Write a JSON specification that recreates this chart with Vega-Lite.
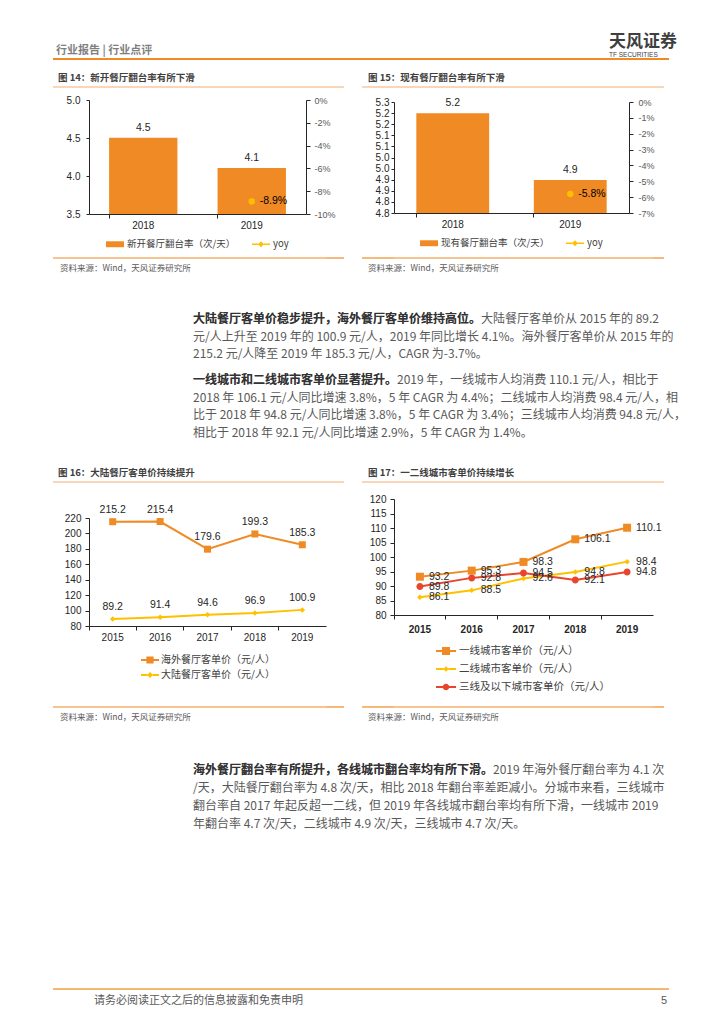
{
  "$schema": "https://vega.github.io/schema/vega-lite/v6.json",
  "background": "white",
  "padding": {"left": 52, "top": 32, "right": 10, "bottom": 5},
  "data": {"values": []},
  "columns": 7,
  "bounds": "flush",
  "spacing": 0,
  "resolve": {"scale": {"color": "independent", "shape": "independent"}, "legend": {"color": "independent", "shape": "independent"}},
  "config": {
    "view": {"stroke": null},
    "font": "Liberation Sans",
    "title": {"font": "Noto Sans CJK SC"},
    "axis": {"labelFont": "Liberation Sans", "labelFontSize": 10, "labelColor": "#262626", "domainColor": "#262626", "tickColor": "#262626", "grid": false, "domainWidth": 1, "tickWidth": 1},
    "legend": {"layout": {"bottom": {"anchor": "middle"}}},
    "locale": {"number": {"decimal": ".", "thousands": ",", "grouping": [3], "currency": ["$", ""], "minus": "-"}}
  },
  "concat": [
    {"width": 36, "height": 28, "data": {"values": [{}]}, "mark": {"type": "rule", "color": "#F08A24", "strokeWidth": 2}, "encoding": {"y": {"datum": 1, "type": "quantitative", "scale": {"domain": [0, 1]}, "axis": null}},
     "title": {"text": "行业报告 | 行业点评", "anchor": "start", "frame": "group", "dx": 3, "offset": -9, "baseline": "bottom", "fontSize": 11, "fontWeight": "bold", "color": "#7F7F7F", "font": "Noto Sans CJK SC"}},
    {"width": 237, "height": 28, "data": {"values": [{}]}, "mark": {"type": "rule", "color": "#F08A24", "strokeWidth": 2}, "encoding": {"y": {"datum": 1, "type": "quantitative", "scale": {"domain": [0, 1]}, "axis": null}}},
    {"width": 18, "height": 28, "data": {"values": [{}]}, "mark": {"type": "rule", "color": "#F08A24", "strokeWidth": 2}, "encoding": {"y": {"datum": 1, "type": "quantitative", "scale": {"domain": [0, 1]}, "axis": null}}},
    {"width": 18, "height": 28, "data": {"values": [{}]}, "mark": {"type": "rule", "color": "#F08A24", "strokeWidth": 2}, "encoding": {"y": {"datum": 1, "type": "quantitative", "scale": {"domain": [0, 1]}, "axis": null}}},
    {"width": 32, "height": 28, "data": {"values": [{}]}, "mark": {"type": "rule", "color": "#F08A24", "strokeWidth": 2}, "encoding": {"y": {"datum": 1, "type": "quantitative", "scale": {"domain": [0, 1]}, "axis": null}}},
    {"width": 259, "height": 28, "data": {"values": [{}]}, "mark": {"type": "rule", "color": "#F08A24", "strokeWidth": 2}, "encoding": {"y": {"datum": 1, "type": "quantitative", "scale": {"domain": [0, 1]}, "axis": null}},
     "title": {"text": "天风证券", "subtitle": "TF SECURITIES", "anchor": "start", "frame": "group", "dx": 215, "offset": -1, "fontSize": 17, "fontWeight": "bold", "color": "#3F3F3F", "font": "Noto Sans CJK SC", "subtitleFontSize": 6.5, "subtitleColor": "#3F3F3F", "subtitlePadding": 1, "subtitleFont": "Liberation Sans"}},
    {"width": 16, "height": 28, "data": {"values": [{}]}, "mark": {"type": "rule", "color": "#F08A24", "strokeWidth": 2}, "encoding": {"y": {"datum": 1, "type": "quantitative", "scale": {"domain": [0, 1]}, "axis": null}}},

    {"width": 36, "height": 13, "data": {"values": [{}]}, "mark": {"type": "rule", "color": "#F8C9A0", "strokeWidth": 1.5}, "encoding": {"y": {"datum": 1, "type": "quantitative", "scale": {"domain": [0, 1]}, "axis": null}},
     "title": {"text": "图 14：新开餐厅翻台率有所下滑", "anchor": "start", "frame": "group", "dx": 5, "offset": -6, "baseline": "bottom", "fontSize": 9.5, "fontWeight": "bold", "color": "#404040", "font": "Noto Sans CJK SC"}},
    {"width": 237, "height": 13, "data": {"values": [{}]}, "mark": {"type": "rule", "color": "#F8C9A0", "strokeWidth": 1.5}, "encoding": {"y": {"datum": 1, "type": "quantitative", "scale": {"domain": [0, 1]}, "axis": null}}},
    {"width": 18, "height": 13, "data": {"values": [{}]}, "mark": {"type": "rule", "color": "#F8C9A0", "strokeWidth": 1.5}, "encoding": {"y": {"datum": 1, "type": "quantitative", "scale": {"domain": [0, 1]}, "axis": null}}},
    {"width": 18, "height": 13, "mark": "point"},
    {"width": 32, "height": 13, "data": {"values": [{}]}, "mark": {"type": "rule", "color": "#F8C9A0", "strokeWidth": 1.5}, "encoding": {"y": {"datum": 1, "type": "quantitative", "scale": {"domain": [0, 1]}, "axis": null}},
     "title": {"text": "图 15：现有餐厅翻台率有所下滑", "anchor": "start", "frame": "group", "dx": 6, "offset": -6, "baseline": "bottom", "fontSize": 9.5, "fontWeight": "bold", "color": "#404040", "font": "Noto Sans CJK SC"}},
    {"width": 259, "height": 13, "data": {"values": [{}]}, "mark": {"type": "rule", "color": "#F8C9A0", "strokeWidth": 1.5}, "encoding": {"y": {"datum": 1, "type": "quantitative", "scale": {"domain": [0, 1]}, "axis": null}}},
    {"width": 11, "height": 13, "data": {"values": [{}]}, "mark": {"type": "rule", "color": "#F8C9A0", "strokeWidth": 1.5}, "encoding": {"y": {"datum": 1, "type": "quantitative", "scale": {"domain": [0, 1]}, "axis": null}}},

    {"width": 36, "height": 114, "mark": "point"},
    {
      "width": 217, "height": 114,
      "data": {"values": [
        {"year": "2018", "rate": 4.504, "yoy": null},
        {"year": "2019", "rate": 4.105, "yoy": -0.089}
      ]},
      "encoding": {
        "x": {"field": "year", "type": "nominal", "scale": {"paddingInner": 0.37, "paddingOuter": 0.185},
              "axis": {"title": null, "labelAngle": 0, "bandPosition": 0, "tickSize": 4, "labelPadding": 2, "labelFontSize": 10}}
      },
      "layer": [
        {
          "mark": {"type": "bar", "color": "#F08A24"},
          "encoding": {
            "y": {"field": "rate", "type": "quantitative", "scale": {"domain": [3.5, 5.0], "zero": false, "nice": false},
                  "axis": {"title": null, "orient": "left", "values": [3.5, 4, 4.5, 5], "format": ".1f", "tickSize": 3, "labelPadding": 6}},
            "y2": {"datum": 3.5},
            "color": {"datum": "新开餐厅翻台率（次/天）", "type": "nominal",
                      "scale": {"domain": ["新开餐厅翻台率（次/天）", "yoy"], "range": ["#F08A24", "#FFC000"]},
                      "legend": {"title": null, "orient": "bottom", "direction": "horizontal", "offset": 5, "symbolSize": 324, "symbolStrokeWidth": 0, "labelFont": "Noto Sans CJK SC", "labelFontSize": 9.5, "labelColor": "#404040", "labelOffset": 3, "columnPadding": 16,
                                 "symbolType": {"expr": "datum.value === 'yoy' ? 'M-1,-0.07H-0.3V0.07H-1Z M0.3,-0.07H1V0.07H0.3Z M0,-0.33L0.33,0L0,0.33L-0.33,0Z' : 'M-1,-0.33H1V0.33H-1Z'"}}}
          }
        },
        {
          "mark": {"type": "text", "baseline": "bottom", "dy": -5, "fontSize": 10.5, "color": "#262626"},
          "encoding": {
            "y": {"field": "rate", "type": "quantitative", "scale": {"domain": [3.5, 5.0], "zero": false, "nice": false}, "axis": null},
            "text": {"field": "rate", "type": "quantitative", "format": ".1f"}
          }
        },
        {
          "transform": [{"filter": "isValid(datum.yoy)"}],
          "mark": {"type": "point", "filled": true, "shape": "circle", "size": 40, "opacity": 1},
          "encoding": {
            "y": {"field": "yoy", "type": "quantitative", "scale": {"domain": [-0.1, 0], "nice": false, "zero": false},
                  "axis": {"title": null, "orient": "right", "values": [-0.1, -0.08, -0.06, -0.04, -0.02, 0], "format": ".0%", "labelColor": "#595959", "labelFontSize": 9, "tickSize": 4, "labelPadding": 4}},
            "color": {"datum": "yoy", "type": "nominal",
                      "scale": {"domain": ["新开餐厅翻台率（次/天）", "yoy"], "range": ["#F08A24", "#FFC000"]},
                      "legend": {"title": null, "orient": "bottom", "direction": "horizontal", "offset": 5, "symbolSize": 324, "symbolStrokeWidth": 0, "labelFont": "Noto Sans CJK SC", "labelFontSize": 9.5, "labelColor": "#404040", "labelOffset": 3, "columnPadding": 16,
                                 "symbolType": {"expr": "datum.value === 'yoy' ? 'M-1,-0.07H-0.3V0.07H-1Z M0.3,-0.07H1V0.07H0.3Z M0,-0.33L0.33,0L0,0.33L-0.33,0Z' : 'M-1,-0.33H1V0.33H-1Z'"}}}
          }
        },
        {
          "transform": [{"filter": "isValid(datum.yoy)"}],
          "mark": {"type": "text", "align": "left", "baseline": "middle", "dx": 8, "fontSize": 10.5, "color": "#000000"},
          "encoding": {
            "y": {"field": "yoy", "type": "quantitative", "scale": {"domain": [-0.1, 0], "nice": false, "zero": false}, "axis": null},
            "text": {"field": "yoy", "type": "quantitative", "format": ".1%"}
          }
        }
      ],
      "resolve": {"scale": {"y": "independent"}}
    },
    {"width": 18, "height": 114, "mark": "point"},
    {"width": 18, "height": 114, "mark": "point"},
    {"width": 32, "height": 114, "mark": "point"},
    {
      "width": 235, "height": 113,
      "data": {"values": [
        {"year": "2018", "rate": 5.249, "yoy": null},
        {"year": "2019", "rate": 4.949, "yoy": -0.058}
      ]},
      "encoding": {
        "x": {"field": "year", "type": "nominal", "scale": {"paddingInner": 0.38, "paddingOuter": 0.19},
              "axis": {"title": null, "labelAngle": 0, "bandPosition": 0, "tickSize": 4, "labelPadding": 2, "labelFontSize": 10}}
      },
      "layer": [
        {
          "mark": {"type": "bar", "color": "#F08A24"},
          "encoding": {
            "y": {"field": "rate", "type": "quantitative", "scale": {"domain": [4.8, 5.3], "zero": false, "nice": false, "range": [113, 2]},
                  "axis": {"title": null, "orient": "left", "values": [4.8, 4.85, 4.9, 4.95, 5.0, 5.05, 5.1, 5.15, 5.2, 5.25, 5.3], "labelExpr": "format(floor(datum.value * 10 + 0.001) / 10, '.1f')", "tickSize": 3, "labelPadding": 2}},
            "y2": {"datum": 4.8},
            "color": {"datum": "现有餐厅翻台率（次/天）", "type": "nominal",
                      "scale": {"domain": ["现有餐厅翻台率（次/天）", "yoy"], "range": ["#F08A24", "#FFC000"]},
                      "legend": {"title": null, "orient": "bottom", "direction": "horizontal", "offset": 5, "symbolSize": 324, "symbolStrokeWidth": 0, "labelFont": "Noto Sans CJK SC", "labelFontSize": 9.5, "labelColor": "#404040", "labelOffset": 3, "columnPadding": 16,
                                 "symbolType": {"expr": "datum.value === 'yoy' ? 'M-1,-0.07H-0.3V0.07H-1Z M0.3,-0.07H1V0.07H0.3Z M0,-0.33L0.33,0L0,0.33L-0.33,0Z' : 'M-1,-0.33H1V0.33H-1Z'"}}}
          }
        },
        {
          "mark": {"type": "text", "baseline": "bottom", "dy": -5, "fontSize": 10.5, "color": "#262626"},
          "encoding": {
            "y": {"field": "rate", "type": "quantitative", "scale": {"domain": [4.8, 5.3], "zero": false, "nice": false, "range": [113, 2]}, "axis": null},
            "text": {"field": "rate", "type": "quantitative", "format": ".1f"}
          }
        },
        {
          "transform": [{"filter": "isValid(datum.yoy)"}],
          "mark": {"type": "point", "filled": true, "shape": "circle", "size": 40, "opacity": 1},
          "encoding": {
            "y": {"field": "yoy", "type": "quantitative", "scale": {"domain": [-0.07, 0], "nice": false, "zero": false, "range": [113, 2]},
                  "axis": {"title": null, "orient": "right", "values": [-0.07, -0.06, -0.05, -0.04, -0.03, -0.02, -0.01, 0], "format": ".0%", "labelColor": "#595959", "labelFontSize": 9, "tickSize": 4, "labelPadding": 5}},
            "color": {"datum": "yoy", "type": "nominal",
                      "scale": {"domain": ["现有餐厅翻台率（次/天）", "yoy"], "range": ["#F08A24", "#FFC000"]},
                      "legend": {"title": null, "orient": "bottom", "direction": "horizontal", "offset": 5, "symbolSize": 324, "symbolStrokeWidth": 0, "labelFont": "Noto Sans CJK SC", "labelFontSize": 9.5, "labelColor": "#404040", "labelOffset": 3, "columnPadding": 16,
                                 "symbolType": {"expr": "datum.value === 'yoy' ? 'M-1,-0.07H-0.3V0.07H-1Z M0.3,-0.07H1V0.07H0.3Z M0,-0.33L0.33,0L0,0.33L-0.33,0Z' : 'M-1,-0.33H1V0.33H-1Z'"}}}
          }
        },
        {
          "transform": [{"filter": "isValid(datum.yoy)"}],
          "mark": {"type": "text", "align": "left", "baseline": "middle", "dx": 8, "fontSize": 10.5, "color": "#000000"},
          "encoding": {
            "y": {"field": "yoy", "type": "quantitative", "scale": {"domain": [-0.07, 0], "nice": false, "zero": false, "range": [113, 2]}, "axis": null},
            "text": {"field": "yoy", "type": "quantitative", "format": ".1%"}
          }
        }
      ],
      "resolve": {"scale": {"y": "independent"}}
    },
    {"width": 16, "height": 114, "mark": "point"},

    {"width": 36, "height": 44, "data": {"values": [{}]}, "mark": {"type": "rule", "color": "#F08A24", "strokeWidth": 1.2}, "encoding": {"y": {"datum": 0, "type": "quantitative", "scale": {"domain": [0, 1]}, "axis": null}},
     "title": {"text": "资料来源：Wind，天风证券研究所", "orient": "bottom", "anchor": "start", "frame": "group", "dx": 7, "offset": 5, "baseline": "top", "fontSize": 8.5, "fontWeight": "normal", "color": "#595959", "font": "Noto Sans CJK SC"}},
    {"width": 237, "height": 44, "data": {"values": [{}]}, "mark": {"type": "rule", "color": "#F08A24", "strokeWidth": 1.2}, "encoding": {"y": {"datum": 0, "type": "quantitative", "scale": {"domain": [0, 1]}, "axis": null}}},
    {"width": 18, "height": 44, "data": {"values": [{}]}, "mark": {"type": "rule", "color": "#F08A24", "strokeWidth": 1.2}, "encoding": {"y": {"datum": 0, "type": "quantitative", "scale": {"domain": [0, 1]}, "axis": null}}},
    {"width": 18, "height": 44, "mark": "point"},
    {"width": 32, "height": 44, "data": {"values": [{}]}, "mark": {"type": "rule", "color": "#F08A24", "strokeWidth": 1.2}, "encoding": {"y": {"datum": 0, "type": "quantitative", "scale": {"domain": [0, 1]}, "axis": null}},
     "title": {"text": "资料来源：Wind，天风证券研究所", "orient": "bottom", "anchor": "start", "frame": "group", "dx": 6, "offset": 5, "baseline": "top", "fontSize": 8.5, "fontWeight": "normal", "color": "#595959", "font": "Noto Sans CJK SC"}},
    {"width": 259, "height": 44, "data": {"values": [{}]}, "mark": {"type": "rule", "color": "#F08A24", "strokeWidth": 1.2}, "encoding": {"y": {"datum": 0, "type": "quantitative", "scale": {"domain": [0, 1]}, "axis": null}}},
    {"width": 11, "height": 44, "data": {"values": [{}]}, "mark": {"type": "rule", "color": "#F08A24", "strokeWidth": 1.2}, "encoding": {"y": {"datum": 0, "type": "quantitative", "scale": {"domain": [0, 1]}, "axis": null}}},

    {"width": 36, "height": 50, "mark": "point",
     "title": {"text": ["大陆餐厅客单价稳步提升，海外餐厅客单价维持高位。大陆餐厅客单价从 2015 年的 89.2", "元/人上升至 2019 年的 100.9 元/人，2019 年同比增长 4.1%。海外餐厅客单价从 2015 年的", "215.2 元/人降至 2019 年 185.3 元/人，CAGR 为-3.7%。"],
               "orient": "bottom", "anchor": "start", "frame": "group", "dx": 140, "offset": 6, "baseline": "top", "fontSize": 12, "fontWeight": "normal", "color": "#595959", "font": "Noto Sans CJK SC", "lineHeight": 17.5}},
    {"width": 237, "height": 50, "mark": "point",
     "title": {"text": "大陆餐厅客单价稳步提升，海外餐厅客单价维持高位。", "orient": "bottom", "anchor": "start", "frame": "group", "dx": 104, "offset": 6, "baseline": "top", "fontSize": 12, "fontWeight": "bold", "color": "#333333", "font": "Noto Sans CJK SC", "lineHeight": 17.5}},
    {"width": 18, "height": 50, "mark": "point"},
    {"width": 18, "height": 50, "mark": "point"},
    {"width": 32, "height": 50, "mark": "point"},
    {"width": 259, "height": 50, "mark": "point"},
    {"width": 16, "height": 50, "mark": "point"},

    {"width": 36, "height": 61, "mark": "point",
     "title": {"text": ["一线城市和二线城市客单价显著提升。2019 年，一线城市人均消费 110.1 元/人，相比于", "2018 年 106.1 元/人同比增速 3.8%，5 年 CAGR 为 4.4%；二线城市人均消费 98.4 元/人，相", "比于 2018 年 94.8 元/人同比增速 3.8%，5 年 CAGR 为 3.4%；三线城市人均消费 94.8 元/人，", "相比于 2018 年 92.1 元/人同比增速 2.9%，5 年 CAGR 为 1.4%。"],
               "orient": "bottom", "anchor": "start", "frame": "group", "dx": 140, "offset": 6, "baseline": "top", "fontSize": 12, "fontWeight": "normal", "color": "#595959", "font": "Noto Sans CJK SC", "lineHeight": 17.6}},
    {"width": 237, "height": 61, "mark": "point",
     "title": {"text": "一线城市和二线城市客单价显著提升。", "orient": "bottom", "anchor": "start", "frame": "group", "dx": 104, "offset": 6, "baseline": "top", "fontSize": 12, "fontWeight": "bold", "color": "#333333", "font": "Noto Sans CJK SC", "lineHeight": 17.6}},
    {"width": 18, "height": 61, "mark": "point"},
    {"width": 18, "height": 61, "mark": "point"},
    {"width": 32, "height": 61, "mark": "point"},
    {"width": 259, "height": 61, "mark": "point"},
    {"width": 16, "height": 61, "mark": "point"},

    {"width": 36, "height": 113, "mark": "point"},
    {"width": 237, "height": 113, "mark": "point"},
    {"width": 18, "height": 113, "mark": "point"},
    {"width": 18, "height": 113, "mark": "point"},
    {"width": 32, "height": 113, "mark": "point"},
    {"width": 259, "height": 113, "mark": "point"},
    {"width": 16, "height": 113, "mark": "point"},

    {"width": 36, "height": 17, "data": {"values": [{}]}, "mark": {"type": "rule", "color": "#F8C9A0", "strokeWidth": 1.5}, "encoding": {"y": {"datum": 1, "type": "quantitative", "scale": {"domain": [0, 1]}, "axis": null}},
     "title": {"text": "图 16：大陆餐厅客单价持续提升", "anchor": "start", "frame": "group", "dx": 5, "offset": -6, "baseline": "bottom", "fontSize": 9.5, "fontWeight": "bold", "color": "#404040", "font": "Noto Sans CJK SC"}},
    {"width": 237, "height": 17, "data": {"values": [{}]}, "mark": {"type": "rule", "color": "#F8C9A0", "strokeWidth": 1.5}, "encoding": {"y": {"datum": 1, "type": "quantitative", "scale": {"domain": [0, 1]}, "axis": null}}},
    {"width": 18, "height": 17, "data": {"values": [{}]}, "mark": {"type": "rule", "color": "#F8C9A0", "strokeWidth": 1.5}, "encoding": {"y": {"datum": 1, "type": "quantitative", "scale": {"domain": [0, 1]}, "axis": null}}},
    {"width": 18, "height": 17, "mark": "point"},
    {"width": 32, "height": 17, "data": {"values": [{}]}, "mark": {"type": "rule", "color": "#F8C9A0", "strokeWidth": 1.5}, "encoding": {"y": {"datum": 1, "type": "quantitative", "scale": {"domain": [0, 1]}, "axis": null}},
     "title": {"text": "图 17：一二线城市客单价持续增长", "anchor": "start", "frame": "group", "dx": 6, "offset": -6, "baseline": "bottom", "fontSize": 9.5, "fontWeight": "bold", "color": "#404040", "font": "Noto Sans CJK SC"}},
    {"width": 259, "height": 17, "data": {"values": [{}]}, "mark": {"type": "rule", "color": "#F8C9A0", "strokeWidth": 1.5}, "encoding": {"y": {"datum": 1, "type": "quantitative", "scale": {"domain": [0, 1]}, "axis": null}}},
    {"width": 11, "height": 17, "data": {"values": [{}]}, "mark": {"type": "rule", "color": "#F8C9A0", "strokeWidth": 1.5}, "encoding": {"y": {"datum": 1, "type": "quantitative", "scale": {"domain": [0, 1]}, "axis": null}}},

    {"width": 36, "height": 127, "mark": "point"},
    {
      "width": 237, "height": 127,
      "data": {"values": [
        {"year": "2015", "s": "海外餐厅客单价（元/人）", "v": 215.2},
        {"year": "2016", "s": "海外餐厅客单价（元/人）", "v": 215.4},
        {"year": "2017", "s": "海外餐厅客单价（元/人）", "v": 179.6},
        {"year": "2018", "s": "海外餐厅客单价（元/人）", "v": 199.3},
        {"year": "2019", "s": "海外餐厅客单价（元/人）", "v": 185.3},
        {"year": "2015", "s": "大陆餐厅客单价（元/人）", "v": 89.2},
        {"year": "2016", "s": "大陆餐厅客单价（元/人）", "v": 91.4},
        {"year": "2017", "s": "大陆餐厅客单价（元/人）", "v": 94.6},
        {"year": "2018", "s": "大陆餐厅客单价（元/人）", "v": 96.9},
        {"year": "2019", "s": "大陆餐厅客单价（元/人）", "v": 100.9}
      ]},
      "encoding": {
        "x": {"field": "year", "type": "ordinal", "scale": {"type": "band", "paddingInner": 0, "paddingOuter": 0},
              "axis": {"title": null, "labelAngle": 0, "bandPosition": 0, "tickSize": 4, "labelPadding": 2}},
        "y": {"field": "v", "type": "quantitative", "scale": {"domain": [80, 220], "nice": false, "zero": false, "range": [127, 19]},
              "axis": {"title": null, "values": [80, 100, 120, 140, 160, 180, 200, 220], "tickSize": 4, "labelPadding": 4}},
        "color": {"field": "s", "type": "nominal",
                  "scale": {"domain": ["海外餐厅客单价（元/人）", "大陆餐厅客单价（元/人）"], "range": ["#F08A24", "#FFC000"]},
                  "legend": {"title": null, "orient": "bottom", "direction": "vertical", "offset": 9, "symbolSize": 324, "symbolStrokeWidth": 0, "labelFont": "Noto Sans CJK SC", "labelFontSize": 10, "labelColor": "#404040", "labelOffset": 2, "rowPadding": 1,
                             "symbolType": {"expr": "datum.value === '海外餐厅客单价（元/人）' ? 'M-1,-0.11H-0.4V0.11H-1Z M0.4,-0.11H1V0.11H0.4Z M-0.4,-0.4H0.4V0.4H-0.4Z' : 'M-1,-0.11H-0.3V0.11H-1Z M0.3,-0.11H1V0.11H0.3Z M0,-0.33L0.33,0L0,0.33L-0.33,0Z'"}}}
      },
      "layer": [
        {"mark": {"type": "line", "strokeWidth": 2}},
        {"transform": [{"filter": "datum.s === '海外餐厅客单价（元/人）'"}],
         "mark": {"type": "point", "filled": true, "opacity": 1, "size": 100, "shape": "M-0.7,-0.7H0.7V0.7H-0.7Z"}},
        {"transform": [{"filter": "datum.s === '大陆餐厅客单价（元/人）'"}],
         "mark": {"type": "point", "filled": true, "opacity": 1, "size": 100, "shape": "M0,-0.55L0.55,0L0,0.55L-0.55,0Z"}},
        {"mark": {"type": "text", "baseline": "middle", "dy": -12, "fontSize": 10.5},
         "encoding": {"text": {"field": "v", "type": "quantitative", "format": ".1f"}, "color": {"value": "#262626"}}}
      ]
    },
    {"width": 18, "height": 127, "mark": "point"},
    {"width": 18, "height": 127, "mark": "point"},
    {"width": 32, "height": 127, "mark": "point"},
    {
      "width": 259, "height": 116,
      "data": {"values": [
        {"year": "2015", "s": "一线城市客单价（元/人）", "v": 93.2},
        {"year": "2016", "s": "一线城市客单价（元/人）", "v": 95.3},
        {"year": "2017", "s": "一线城市客单价（元/人）", "v": 98.3},
        {"year": "2018", "s": "一线城市客单价（元/人）", "v": 106.1},
        {"year": "2019", "s": "一线城市客单价（元/人）", "v": 110.1},
        {"year": "2015", "s": "二线城市客单价（元/人）", "v": 86.1},
        {"year": "2016", "s": "二线城市客单价（元/人）", "v": 88.5},
        {"year": "2017", "s": "二线城市客单价（元/人）", "v": 92.6},
        {"year": "2018", "s": "二线城市客单价（元/人）", "v": 94.8},
        {"year": "2019", "s": "二线城市客单价（元/人）", "v": 98.4},
        {"year": "2015", "s": "三线及以下城市客单价（元/人）", "v": 89.8},
        {"year": "2016", "s": "三线及以下城市客单价（元/人）", "v": 92.8},
        {"year": "2017", "s": "三线及以下城市客单价（元/人）", "v": 94.5},
        {"year": "2018", "s": "三线及以下城市客单价（元/人）", "v": 92.1},
        {"year": "2019", "s": "三线及以下城市客单价（元/人）", "v": 94.8}
      ]},
      "encoding": {
        "x": {"field": "year", "type": "ordinal", "scale": {"type": "band", "paddingInner": 0, "paddingOuter": 0},
              "axis": {"title": null, "labelAngle": 0, "bandPosition": 0, "tickSize": 4, "labelPadding": 5, "labelFontWeight": "bold"}},
        "y": {"field": "v", "type": "quantitative", "scale": {"domain": [80, 120], "nice": false, "zero": false},
              "axis": {"title": null, "values": [80, 85, 90, 95, 100, 105, 110, 115, 120], "tickSize": 4, "labelPadding": 4}},
        "color": {"field": "s", "type": "nominal",
                  "scale": {"domain": ["一线城市客单价（元/人）", "二线城市客单价（元/人）", "三线及以下城市客单价（元/人）"], "range": ["#F08A24", "#FFC000", "#E8452C"]},
                  "legend": {"title": null, "orient": "bottom", "direction": "vertical", "offset": 7, "symbolSize": 400, "symbolStrokeWidth": 0, "labelFont": "Noto Sans CJK SC", "labelFontSize": 10.5, "labelColor": "#404040", "labelOffset": 3, "rowPadding": 2,
                             "symbolType": {"expr": "datum.value === '一线城市客单价（元/人）' ? 'M-1,-0.1H-0.4V0.1H-1Z M0.4,-0.1H1V0.1H0.4Z M-0.4,-0.4H0.4V0.4H-0.4Z' : datum.value === '二线城市客单价（元/人）' ? 'M-1,-0.1H-0.25V0.1H-1Z M0.25,-0.1H1V0.1H0.25Z M0,-0.28L0.28,0L0,0.28L-0.28,0Z' : 'M-1,-0.1H-0.3V0.1H-1Z M0.3,-0.1H1V0.1H0.3Z M-0.33,0A0.33,0.33 0 1,1 0.33,0A0.33,0.33 0 1,1 -0.33,0Z'"}}}
      },
      "layer": [
        {"mark": {"type": "line", "strokeWidth": 2}},
        {"transform": [{"filter": "datum.s === '一线城市客单价（元/人）'"}],
         "mark": {"type": "point", "filled": true, "opacity": 1, "size": 100, "shape": "M-0.8,-0.8H0.8V0.8H-0.8Z"}},
        {"transform": [{"filter": "datum.s === '二线城市客单价（元/人）'"}],
         "mark": {"type": "point", "filled": true, "opacity": 1, "size": 100, "shape": "M0,-0.55L0.55,0L0,0.55L-0.55,0Z"}},
        {"transform": [{"filter": "datum.s === '三线及以下城市客单价（元/人）'"}],
         "mark": {"type": "point", "filled": true, "opacity": 1, "size": 100, "shape": "M-0.7,0A0.7,0.7 0 1,1 0.7,0A0.7,0.7 0 1,1 -0.7,0Z"}},
        {"mark": {"type": "text", "align": "left", "baseline": "middle", "dx": 9, "fontSize": 10.5},
         "encoding": {"text": {"field": "v", "type": "quantitative", "format": ".1f"}, "color": {"value": "#262626"}}}
      ]
    },
    {"width": 16, "height": 127, "mark": "point"},

    {"width": 36, "height": 81, "data": {"values": [{}]}, "mark": {"type": "rule", "color": "#F08A24", "strokeWidth": 1.2}, "encoding": {"y": {"datum": 0, "type": "quantitative", "scale": {"domain": [0, 1]}, "axis": null}},
     "title": {"text": "资料来源：Wind，天风证券研究所", "orient": "bottom", "anchor": "start", "frame": "group", "dx": 7, "offset": 5, "baseline": "top", "fontSize": 8.5, "fontWeight": "normal", "color": "#595959", "font": "Noto Sans CJK SC"}},
    {"width": 237, "height": 81, "data": {"values": [{}]}, "mark": {"type": "rule", "color": "#F08A24", "strokeWidth": 1.2}, "encoding": {"y": {"datum": 0, "type": "quantitative", "scale": {"domain": [0, 1]}, "axis": null}}},
    {"width": 18, "height": 81, "data": {"values": [{}]}, "mark": {"type": "rule", "color": "#F08A24", "strokeWidth": 1.2}, "encoding": {"y": {"datum": 0, "type": "quantitative", "scale": {"domain": [0, 1]}, "axis": null}}},
    {"width": 18, "height": 81, "mark": "point"},
    {"width": 32, "height": 81, "data": {"values": [{}]}, "mark": {"type": "rule", "color": "#F08A24", "strokeWidth": 1.2}, "encoding": {"y": {"datum": 0, "type": "quantitative", "scale": {"domain": [0, 1]}, "axis": null}},
     "title": {"text": "资料来源：Wind，天风证券研究所", "orient": "bottom", "anchor": "start", "frame": "group", "dx": 6, "offset": 5, "baseline": "top", "fontSize": 8.5, "fontWeight": "normal", "color": "#595959", "font": "Noto Sans CJK SC"}},
    {"width": 259, "height": 81, "data": {"values": [{}]}, "mark": {"type": "rule", "color": "#F08A24", "strokeWidth": 1.2}, "encoding": {"y": {"datum": 0, "type": "quantitative", "scale": {"domain": [0, 1]}, "axis": null}}},
    {"width": 11, "height": 81, "data": {"values": [{}]}, "mark": {"type": "rule", "color": "#F08A24", "strokeWidth": 1.2}, "encoding": {"y": {"datum": 0, "type": "quantitative", "scale": {"domain": [0, 1]}, "axis": null}}},

    {"width": 36, "height": 51, "mark": "point",
     "title": {"text": ["海外餐厅翻台率有所提升，各线城市翻台率均有所下滑。2019 年海外餐厅翻台率为 4.1 次", "/天，大陆餐厅翻台率为 4.8 次/天，相比 2018 年翻台率差距减小。分城市来看，三线城市", "翻台率自 2017 年起反超一二线，但 2019 年各线城市翻台率均有所下滑，一线城市 2019", "年翻台率 4.7 次/天，二线城市 4.9 次/天，三线城市 4.7 次/天。"],
               "orient": "bottom", "anchor": "start", "frame": "group", "dx": 140, "offset": 7, "baseline": "top", "fontSize": 12, "fontWeight": "normal", "color": "#595959", "font": "Noto Sans CJK SC", "lineHeight": 18}},
    {"width": 237, "height": 51, "mark": "point",
     "title": {"text": "海外餐厅翻台率有所提升，各线城市翻台率均有所下滑。", "orient": "bottom", "anchor": "start", "frame": "group", "dx": 104, "offset": 7, "baseline": "top", "fontSize": 12, "fontWeight": "bold", "color": "#333333", "font": "Noto Sans CJK SC", "lineHeight": 18}},
    {"width": 18, "height": 51, "mark": "point"},
    {"width": 18, "height": 51, "mark": "point"},
    {"width": 32, "height": 51, "mark": "point"},
    {"width": 259, "height": 51, "mark": "point"},
    {"width": 16, "height": 51, "mark": "point"},

    {"width": 36, "height": 231, "mark": "point"},
    {"width": 237, "height": 231, "mark": "point"},
    {"width": 18, "height": 231, "mark": "point"},
    {"width": 18, "height": 231, "mark": "point"},
    {"width": 32, "height": 231, "mark": "point"},
    {"width": 259, "height": 231, "mark": "point"},
    {"width": 16, "height": 231, "mark": "point"},

    {"width": 36, "height": 1, "data": {"values": [{}]}, "mark": {"type": "rule", "color": "#F0A040", "strokeWidth": 1.5}, "encoding": {"y": {"datum": 1, "type": "quantitative", "scale": {"domain": [0, 1]}, "axis": null}},
     "title": {"text": "请务必阅读正文之后的信息披露和免责申明", "orient": "bottom", "anchor": "start", "frame": "group", "dx": 41, "offset": 5, "baseline": "top", "fontSize": 11, "fontWeight": "normal", "color": "#595959", "font": "Noto Sans CJK SC"}},
    {"width": 237, "height": 1, "data": {"values": [{}]}, "mark": {"type": "rule", "color": "#F0A040", "strokeWidth": 1.5}, "encoding": {"y": {"datum": 1, "type": "quantitative", "scale": {"domain": [0, 1]}, "axis": null}}},
    {"width": 18, "height": 1, "data": {"values": [{}]}, "mark": {"type": "rule", "color": "#F0A040", "strokeWidth": 1.5}, "encoding": {"y": {"datum": 1, "type": "quantitative", "scale": {"domain": [0, 1]}, "axis": null}}},
    {"width": 18, "height": 1, "data": {"values": [{}]}, "mark": {"type": "rule", "color": "#F0A040", "strokeWidth": 1.5}, "encoding": {"y": {"datum": 1, "type": "quantitative", "scale": {"domain": [0, 1]}, "axis": null}}},
    {"width": 32, "height": 1, "data": {"values": [{}]}, "mark": {"type": "rule", "color": "#F0A040", "strokeWidth": 1.5}, "encoding": {"y": {"datum": 1, "type": "quantitative", "scale": {"domain": [0, 1]}, "axis": null}}},
    {"width": 259, "height": 1, "data": {"values": [{}]}, "mark": {"type": "rule", "color": "#F0A040", "strokeWidth": 1.5}, "encoding": {"y": {"datum": 1, "type": "quantitative", "scale": {"domain": [0, 1]}, "axis": null}}},
    {"width": 16, "height": 1, "data": {"values": [{}]}, "mark": {"type": "rule", "color": "#F0A040", "strokeWidth": 1.5}, "encoding": {"y": {"datum": 1, "type": "quantitative", "scale": {"domain": [0, 1]}, "axis": null}},
     "title": {"text": "5", "orient": "bottom", "anchor": "end", "frame": "group", "dx": -2, "offset": 5, "baseline": "top", "fontSize": 11, "fontWeight": "normal", "color": "#595959", "font": "Liberation Sans"}}
  ]
}
